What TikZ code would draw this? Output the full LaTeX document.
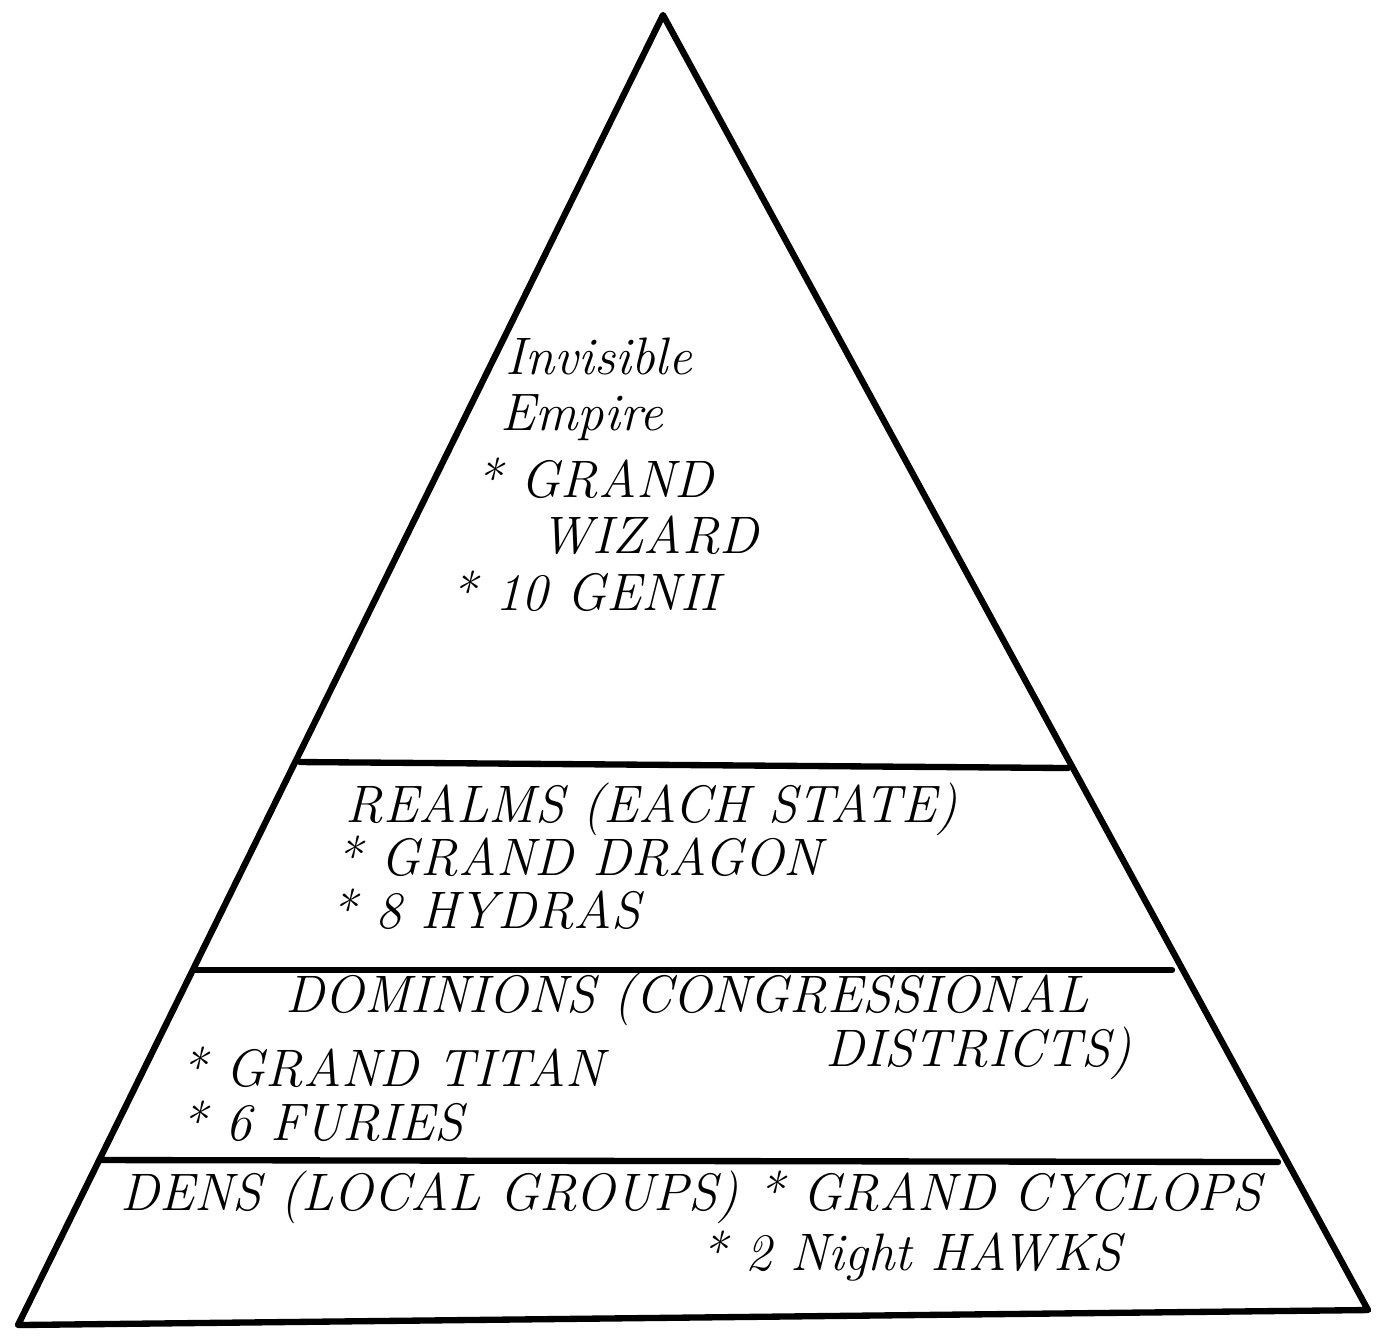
\documentclass[tikz,border=0pt]{standalone}
\begin{document}
\begin{tikzpicture}
[x=0.01cm,y=-0.01cm,
  linedecorate/.style={-,line width=1.8pt,line cap=round,line join=round},%
  labeldecorate/.style={anchor=base west,inner sep=0pt,font=\fontsize{15}{18}\selectfont\itshape}]
\useasboundingbox (0,0) rectangle (1386,1335);
% corners of the pyramid
\coordinate (apex) at (663,15);
\coordinate (bl) at (18,1325);
\coordinate (br) at (1368,1310);
% cuts between the levels
\coordinate (l1) at (300,762);
\coordinate (r1) at (1068,768);
\coordinate (l2) at (195,970);
\coordinate (r2) at (1172,970);
\coordinate (l3) at (100,1160);
\coordinate (r3) at (1278,1162);
% outline and levels
\draw[linedecorate] (apex) -- (bl) -- (br) -- cycle;
\draw[linedecorate] (l1) -- (r1);
\draw[linedecorate] (l2) -- (r2);
\draw[linedecorate] (l3) -- (r3);
% top level
\node (empire1) at (505,374) [labeldecorate] {Invisible};
\node (empire2) at (500,430) [labeldecorate] {Empire};
\node (wizard1) at (475,497) [labeldecorate] {* GRAND};
\node (wizard2) at (540,553) [labeldecorate] {WIZARD};
\node (genii) at (450,610) [labeldecorate] {* 10 GENII};
% realms
\node (realms) at (345,822) [labeldecorate] {REALMS (EACH STATE)};
\node (dragon) at (335,875) [labeldecorate] {* GRAND DRAGON};
\node (hydras) at (330,928) [labeldecorate] {* 8 HYDRAS};
% dominions
\node (dominions) at (285,1012) [labeldecorate] {DOMINIONS (CONGRESSIONAL};
\node (districts) at (825,1066) [labeldecorate] {DISTRICTS)};
\node (titan) at (180,1086) [labeldecorate] {* GRAND TITAN};
\node (furies) at (180,1140) [labeldecorate] {* 6 FURIES};
% dens
\node (dens) at (120,1210) [labeldecorate] {DENS (LOCAL GROUPS) * GRAND CYCLOPS};
\node (hawks) at (700,1270) [labeldecorate] {* 2 Night HAWKS};
\end{tikzpicture}
\end{document}
